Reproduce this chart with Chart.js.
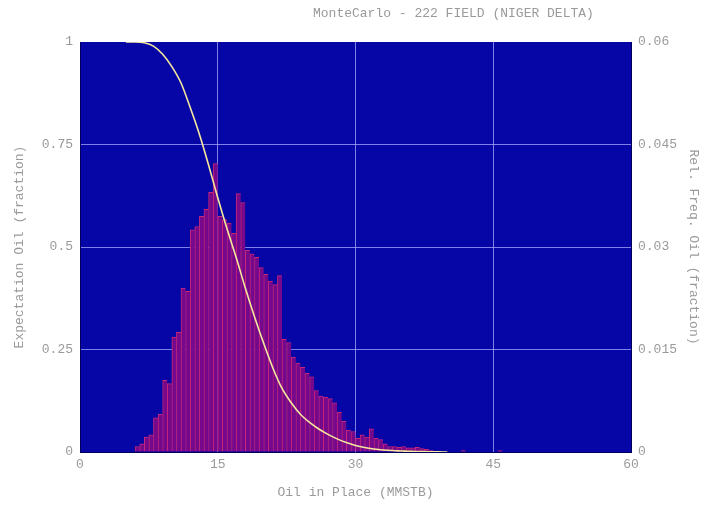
<!DOCTYPE html>
<html>
<head>
<meta charset="utf-8">
<script src="https://cdn.jsdelivr.net/npm/chart.js@4"></script>
<style>
    html, body { margin: 0; padding: 0; background: #fff; }
    #wrap { width: 716px; height: 506px; }
</style>
</head>
<body>
<div id="wrap"><canvas id="mcChart" width="716" height="506"></canvas></div>
<script>
const chartTitle = "MonteCarlo - 222 FIELD (NIGER DELTA)";

// histogram: bin centres (MMSTB) and relative frequency
const binCenters = [
    6.25, 6.75, 7.25, 7.75, 8.25, 8.75, 9.25, 9.75, 10.25, 10.75,
    11.25, 11.75, 12.25, 12.75, 13.25, 13.75, 14.25, 14.75, 15.25, 15.75,
    16.25, 16.75, 17.25, 17.75, 18.25, 18.75, 19.25, 19.75, 20.25, 20.75,
    21.25, 21.75, 22.25, 22.75, 23.25, 23.75, 24.25, 24.75, 25.25, 25.75,
    26.25, 26.75, 27.25, 27.75, 28.25, 28.75, 29.25, 29.75, 30.25, 30.75,
    31.25, 31.75, 32.25, 32.75, 33.25, 33.75, 34.25, 34.75, 35.25, 35.75,
    36.25, 36.75, 37.25, 37.75, 38.25, 38.75, 41.75, 45.75
];
const relFreq = [
    0.0008, 0.0012, 0.0022, 0.0025, 0.005, 0.0055, 0.0105, 0.010, 0.0168, 0.0175,
    0.024, 0.0235, 0.0325, 0.033, 0.0345, 0.0355, 0.038, 0.0422, 0.0345, 0.034,
    0.0335, 0.032, 0.0378, 0.0365, 0.0295, 0.029, 0.0285, 0.027, 0.026, 0.025,
    0.0245, 0.0258, 0.0165, 0.016, 0.0139, 0.013, 0.0124, 0.0115, 0.011, 0.009,
    0.0082, 0.008, 0.0078, 0.0072, 0.0058, 0.0045, 0.0032, 0.003, 0.002, 0.0025,
    0.0022, 0.0034, 0.002, 0.0018, 0.0012, 0.0008, 0.0008, 0.0007, 0.0008, 0.0006,
    0.0006, 0.0007, 0.0005, 0.0004, 0.0002, 0.0001, 0.0002, 0.0002
];

// expectation curve (probability of exceeding)
const curveX = [5, 6, 7, 8, 9, 10, 11, 12, 13, 14, 15, 16, 17, 18, 19, 20, 21, 22, 23, 24,
    25, 26, 27, 28, 29, 30, 31, 32, 33, 34, 35, 36, 37, 38, 39, 40];
const curveY = [1, 1, 0.998, 0.99, 0.97, 0.94, 0.9, 0.84, 0.775, 0.7, 0.62, 0.545, 0.475, 0.4, 0.33, 0.265, 0.205, 0.155, 0.12, 0.092,
    0.072, 0.056, 0.043, 0.032, 0.023, 0.016, 0.011, 0.0075, 0.005, 0.0035, 0.0025, 0.0015, 0.001, 0.0005, 0.0002, 0];

const xTicks = [0, 15, 30, 45, 60];
const leftTicks = [0, 0.25, 0.5, 0.75, 1];
const rightTicks = [0, 0.015, 0.03, 0.045, 0.06];

const monoFont = { family: "'Liberation Mono', 'DejaVu Sans Mono', monospace", size: 13 };
const textColor = "#9a9a9a";
const gridColor = "rgba(170, 170, 255, 0.75)";

function innerGridWidth(min, max) {
    return (c) => {
        const v = c.tick ? c.tick.value : min;
        return v === min || v === max ? 0 : 1;
    };
}

const plainLabel = (v) => String(Number(Number(v).toFixed(3)));

const plotBackground = {
    id: "plotBackground",
    beforeDraw(chart) {
        const { ctx, chartArea } = chart;
        ctx.save();
        ctx.fillStyle = "#ffffff";
        ctx.fillRect(0, 0, chart.width, chart.height);
        ctx.fillStyle = "#0606a6";
        ctx.fillRect(chartArea.left, chartArea.top, chartArea.right - chartArea.left, chartArea.bottom - chartArea.top);
        ctx.restore();
    },
    afterDraw(chart) {
        const { ctx } = chart;
        ctx.save();
        ctx.font = `13px ${monoFont.family}`;
        ctx.fillStyle = textColor;
        ctx.textBaseline = "middle";
        ctx.textAlign = "left";
        ctx.fillText(chartTitle, 313, 14);
        ctx.restore();
    }
};

const canvas = document.getElementById("mcChart");
new Chart(canvas, {
    data: {
        datasets: [
            {
                type: "line",
                label: "Expectation",
                data: curveX.map((x, i) => ({ x, y: curveY[i] })),
                yAxisID: "y",
                borderColor: "#f6e89c",
                borderWidth: 1.6,
                pointRadius: 0,
                cubicInterpolationMode: "monotone",
                order: 0
            },
            {
                type: "bar",
                label: "Rel. Freq.",
                data: binCenters.map((x, i) => ({ x, y: relFreq[i] })),
                yAxisID: "y1",
                backgroundColor: "rgb(118, 8, 140)",
                borderColor: "rgb(200, 40, 120)",
                borderWidth: { top: 1, left: 1, right: 0, bottom: 0 },
                borderSkipped: false,
                barPercentage: 1,
                categoryPercentage: 1,
                grouped: false,
                order: 1
            }
        ]
    },
    options: {
        responsive: false,
        animation: false,
        layout: { padding: { top: 42, left: 0, right: 0, bottom: 0 } },
        plugins: {
            legend: { display: false },
            tooltip: { enabled: false }
        },
        scales: {
            x: {
                type: "linear",
                min: 0,
                max: 60,
                offset: false,
                afterBuildTicks: (scale) => { scale.ticks = xTicks.map((v) => ({ value: v })); },
                afterFit: (scale) => { scale.height = 54; },
                ticks: { color: textColor, font: monoFont, padding: 5, maxRotation: 0, callback: plainLabel },
                grid: { offset: false, color: gridColor, drawTicks: false, lineWidth: innerGridWidth(0, 60) },
                border: { color: "#00005a", width: 1 },
                title: { display: true, text: "Oil in Place (MMSTB)", color: textColor, font: monoFont, padding: { top: 0, bottom: 6 } }
            },
            y: {
                type: "linear",
                position: "left",
                min: 0,
                max: 1,
                afterBuildTicks: (scale) => { scale.ticks = leftTicks.map((v) => ({ value: v })); },
                afterFit: (scale) => { scale.width = 80; },
                ticks: { color: textColor, font: monoFont, padding: 7, callback: plainLabel },
                grid: { color: gridColor, drawTicks: false, lineWidth: innerGridWidth(0, 1) },
                border: { color: "#00005a", width: 1 },
                title: { display: true, text: "Expectation Oil (fraction)", color: textColor, font: monoFont, padding: { top: 12, bottom: 0 } }
            },
            y1: {
                type: "linear",
                position: "right",
                min: 0,
                max: 0.06,
                afterBuildTicks: (scale) => { scale.ticks = rightTicks.map((v) => ({ value: v })); },
                afterFit: (scale) => { scale.width = 85; },
                ticks: { color: textColor, font: monoFont, padding: 7, callback: plainLabel },
                grid: { drawOnChartArea: false, drawTicks: false },
                border: { color: "#00005a", width: 1 },
                title: { display: true, text: "Rel. Freq. Oil (fraction)", color: textColor, font: monoFont, padding: { top: 15, bottom: 0 } }
            }
        }
    },
    plugins: [plotBackground]
});
</script>
</body>
</html>
